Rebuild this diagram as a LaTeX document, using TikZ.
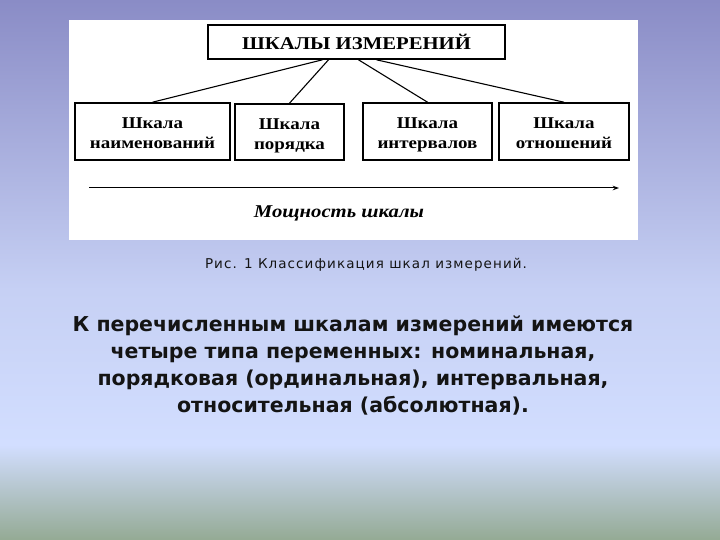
\documentclass[tikz,border=0pt]{standalone}
\usepackage{fontspec}
\setmainfont{Liberation Serif}
\newfontfamily\wideserif[FakeStretch=1.15]{Liberation Serif}
\newfontfamily\capfont[LetterSpace=8]{DejaVu Sans}
\newfontfamily\bodyfont{DejaVu Sans}
\usepackage{xcolor}
\usepackage{tikz}
\usetikzlibrary{arrows.meta,positioning}
\definecolor{bgtop}{HTML}{8A8CC6}
\definecolor{bgmid}{HTML}{C6D0F4}
\definecolor{bglight}{HTML}{D2DEFF}
\definecolor{bgbot}{HTML}{94AA94}
\definecolor{inkx}{HTML}{141414}
\newcommand{\boxtop}{\rule{0pt}{18pt}}
\newcommand{\boxbot}{\vphantom{р}}
\tikzset{
  box/.style={draw=black,line width=1.6pt,fill=white,align=center,inner sep=2pt,font=\wideserif\fontsize{16.5}{20}\selectfont\bfseries},
  ln/.style={black,line width=1.1pt},
  ar/.style={-{Stealth[length=2.2mm,width=1.6mm]},black,line width=1pt}
}

\begin{document}
\begin{tikzpicture}[x=1pt,y=-1pt]
\useasboundingbox (0,0) rectangle (720,540);
\shade[top color=bgtop,bottom color=bgmid] (0,0) rectangle (720,290);
\shade[top color=bgmid,bottom color=bglight] (0,290) rectangle (720,445);
\shade[top color=bglight,bottom color=bgbot] (0,445) rectangle (720,540);
\fill[white] (69,20) rectangle (638,240);
\node[box,minimum width=297,minimum height=34,font=\wideserif\fontsize{18}{20}\selectfont\bfseries] (scl) at (356.5,42) {ШКАЛЫ ИЗМЕРЕНИЙ};
\node[box,minimum width=155,minimum height=57] (b1) at (152.5,131.5) {\boxtop Шкала\\наименований\boxbot};
\node[box,minimum width=109,minimum height=56] (b2) at (289.5,132) {\boxtop Шкала\\порядка\boxbot};
\node[box,minimum width=129,minimum height=57] (b3) at (427.5,131.5) {\boxtop Шкала\\интервалов\boxbot};
\node[box,minimum width=130,minimum height=57] (b4) at (564,131.5) {\boxtop Шкала\\отношений\boxbot};
\draw[ln] ([xshift=-34]scl.south) -- (b1.north);
\draw[ln] ([xshift=-28]scl.south) -- (b2.north);
\draw[ln] ([xshift=2]scl.south) -- (b3.north);
\draw[ln] ([xshift=20]scl.south) -- (b4.north);
\coordinate (ax) at (89,188);
\coordinate (ay) at (619,188);
\draw[ar] (ax) -- (ay);
\node[font=\wideserif\fontsize{18}{20}\selectfont\bfseries\itshape] (pw) at (339,213) {Мощность шкалы};
\node[font=\capfont\fontsize{13.5}{15}\selectfont,text=inkx] (cap) at (366,265) {Рис. 1 Классификация шкал измерений.};
\node[font=\bodyfont\bfseries\fontsize{20.5}{27}\selectfont,align=center,text=inkx] (txt) at (353,366)
  {К перечисленным шкалам измерений имеются\\четыре типа переменных: номинальная,\\порядковая (ординальная), интервальная,\\относительная (абсолютная).};
\end{tikzpicture}
\end{document}
